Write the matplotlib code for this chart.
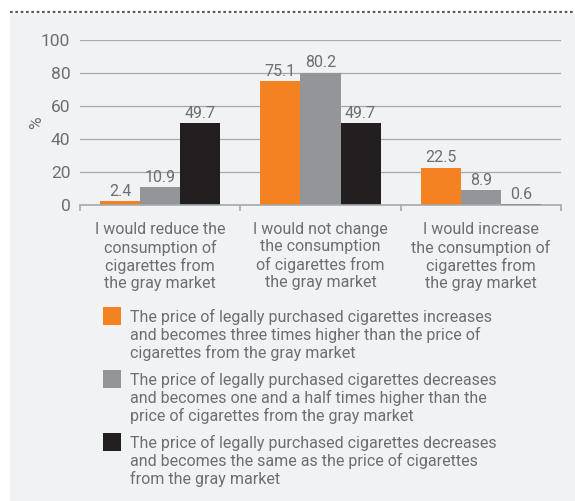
import matplotlib
matplotlib.use('Agg')
import matplotlib.pyplot as plt
from matplotlib.patches import Rectangle
from matplotlib.lines import Line2D
import numpy as np

plt.rcParams['font.family'] = ['Roboto', 'DejaVu Sans']

categories = ['I would reduce the\nconsumption of\ncigarettes from\nthe gray market',
              'I would not change\nthe consumption\nof cigarettes from\nthe gray market',
              'I would increase\nthe consumption of\ncigarettes from\nthe gray market']
three_times = [2.4, 75.1, 22.5]
one_and_half = [10.9, 80.2, 8.9]
same_price = [49.7, 49.7, 0.6]

series_names = ['The price of legally purchased cigarettes increases\nand becomes three times higher than the price of\ncigarettes from the gray market',
                'The price of legally purchased cigarettes decreases\nand becomes one and a half times higher than the\nprice of cigarettes from the gray market',
                'The price of legally purchased cigarettes decreases\nand becomes the same as the price of cigarettes\nfrom the gray market']
colors = ['#f58220', '#939598', '#231f20']
text_color = '#6d6e71'
panel = '#f1f2f4'

W, H = 575, 501
fig = plt.figure(figsize=(W / 100, H / 100), dpi=100)
fig.patch.set_facecolor('white')

# background panel + dotted rule on top
fig.patches.append(Rectangle((10 / W, 0), 1 - 10 / W, 1 - 14 / H, transform=fig.transFigure,
                             facecolor=panel, edgecolor='none', zorder=-2))
fig.lines.append(Line2D([10 / W, 1], [1 - 12 / H, 1 - 12 / H], transform=fig.transFigure,
                        color='#58595b', linewidth=1.6, linestyle=(0, (1.2, 1.2)), zorder=-2))

ax = fig.add_axes([80 / W, 1 - 205 / H, 481 / W, 165 / H])
ax.set_facecolor('none')

x = np.arange(len(categories))
width = 0.25
series = [three_times, one_and_half, same_price]
for i, (vals, c) in enumerate(zip(series, colors)):
    bars = ax.bar(x + (i - 1) * width, vals, width, color=c, zorder=3)
    for b, v in zip(bars, vals):
        ax.text(b.get_x() + b.get_width() / 2, v + 1.5, f'{v}', ha='center', va='bottom',
                fontsize=11.5, color=text_color, zorder=4)

ax.set_xlim(-0.5, 2.5)
ax.set_ylim(0, 100)
ax.set_yticks(range(0, 101, 20))
ax.yaxis.grid(True, color='#a7a9ac', linewidth=0.9, zorder=0)
ax.tick_params(axis='y', length=0, pad=7, labelsize=12.5, labelcolor=text_color)
for s in ['top', 'right', 'left']:
    ax.spines[s].set_visible(False)
ax.spines['bottom'].set_color('#a7a9ac')
ax.spines['bottom'].set_linewidth(1.2)
ax.spines['bottom'].set_zorder(5)
ax.set_xticks([-0.5, 0.5, 1.5, 2.5])
ax.set_xticklabels([])
ax.tick_params(axis='x', direction='out', length=4, width=1.2, color='#a7a9ac')
for xi, lab in zip(x, categories):
    ax.text(xi, -10.5, lab, ha='center', va='top', fontsize=11.5, color=text_color,
            linespacing=1.17, transform=ax.transData)
ax.set_ylabel('%', fontsize=12.5, color=text_color)
ax.yaxis.set_label_coords(-0.075, 0.5)

# legend drawn by hand: square aligned with first line of text
for i, (name, c) in enumerate(zip(series_names, colors)):
    top = 307 + i * 63
    fig.patches.append(Rectangle((103 / W, 1 - (top + 18) / H), 18 / W, 18 / H,
                                 transform=fig.transFigure, facecolor=c, edgecolor='none'))
    fig.text(130 / W, 1 - (top + 2) / H, name, ha='left', va='top', fontsize=11.5,
             color=text_color, linespacing=1.17)

fig.savefig('out.png', dpi=100, facecolor=fig.get_facecolor())
